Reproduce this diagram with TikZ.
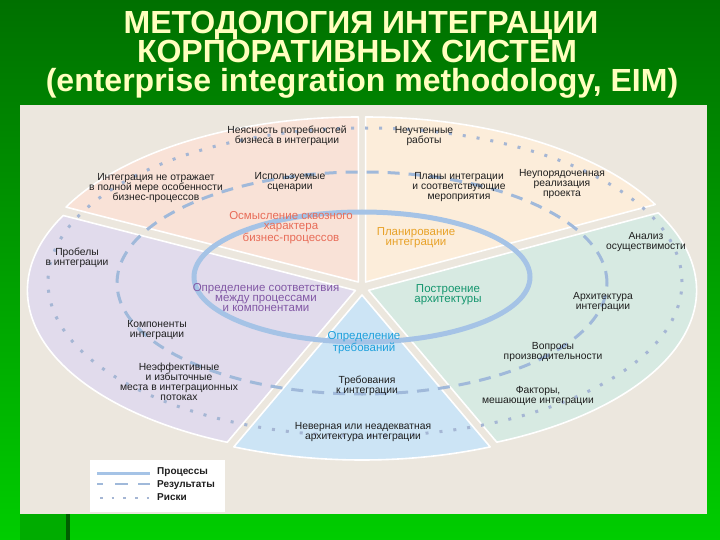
\documentclass[tikz,border=0pt]{standalone}
\usepackage{fontspec}
\setmainfont{Liberation Sans}
\definecolor{bgtop}{RGB}{0,112,0}
\definecolor{bgbot}{RGB}{0,205,0}
\definecolor{bgmid}{RGB}{0,172,0}
\definecolor{bgdark}{RGB}{0,95,0}
\definecolor{bgbeige}{RGB}{236,231,222}
\definecolor{secpink}{RGB}{249,226,215}
\definecolor{seccream}{RGB}{252,237,218}
\definecolor{secpurple}{RGB}{225,219,236}
\definecolor{secblue}{RGB}{204,228,245}
\definecolor{secgreen}{RGB}{215,234,226}
\definecolor{titleyel}{RGB}{255,255,190}
\definecolor{lblred}{RGB}{232,108,88}
\definecolor{lblorange}{RGB}{232,162,40}
\definecolor{lblpurple}{RGB}{130,88,165}
\definecolor{lblteal}{RGB}{20,150,110}
\definecolor{lblcyan}{RGB}{30,160,220}
\definecolor{proccol}{RGB}{165,195,230}
\definecolor{rescol}{RGB}{160,185,218}
\definecolor{riskcol}{RGB}{165,182,212}
\definecolor{txtdark}{RGB}{30,30,30}
\tikzset{
  sector/.style={draw=white, line width=1.6pt, line join=round},
  lbl/.style={font=\fontsize{10.3}{9.8}\selectfont, align=center, text=txtdark, inner sep=0pt},
  clbl/.style={font=\fontsize{11.5}{10}\selectfont, align=center, inner sep=0pt},
  ttl/.style={font=\fontsize{32}{32}\selectfont\bfseries, text=titleyel, anchor=base, inner sep=0pt},
  procline/.style={draw=proccol, line width=5pt},
  resline/.style={draw=rescol, line width=3pt, dash pattern=on 12pt off 9pt},
  riskline/.style={draw=riskcol, line width=3pt, dash pattern=on 3pt off 11pt},
  legtxt/.style={font=\fontsize{10}{10}\selectfont\bfseries, text=txtdark, anchor=west, inner sep=0pt},
}
\newcommand\pieseg[4]{%
  \filldraw[sector, fill=#3, shift={#4}] (362,288) -- plot[domain=#1:#2, samples=90] ({362+328*cos(\x)},{288-165*sin(\x)}) -- cycle;}
\begin{document}
\begin{tikzpicture}[x=1pt,y=-1pt]
\useasboundingbox (0,0) rectangle (720,540);
\shade[top color=bgtop, bottom color=bgbot] (0,0) rectangle (720,540);
\fill[bgmid] (20,514) rectangle (66,540);
\fill[bgdark] (66,514) rectangle (70,540);
\fill[bgbeige] (20,105) rectangle (707,514);

% title
\node[ttl] (t1) at (361,34) {МЕТОДОЛОГИЯ ИНТЕГРАЦИИ};
\node[ttl] (t2) at (357,63) {КОРПОРАТИВНЫХ СИСТЕМ};
\node[ttl] (t3) at (362,92) {(enterprise integration methodology, EIM)};

% sectors
\pieseg{90}{153}{secpink}{(-3.7,-6.0)}
\pieseg{28}{90}{seccream}{(3.6,-6.0)}
\pieseg{153}{247}{secpurple}{(-6.6,2.4)}
\pieseg{247}{293}{secblue}{(0,7)}
\pieseg{293}{388}{secgreen}{(6.6,2.3)}

% ellipses
\draw[riskline] (365,282) ellipse [x radius=317pt, y radius=154pt];
\draw[resline] (362,283) ellipse [x radius=245pt, y radius=111pt];
\draw[procline] (362,277) ellipse [x radius=168pt, y radius=65pt];

% pink sector
\node[lbl] (a1) at (287,136) {Неясность потребностей\\бизнеса в интеграции};
\node[lbl] (a2) at (156,188) {Интеграция не отражает\\в полной мере особенности\\бизнес-процессов};
\node[lbl] (a3) at (290,182) {Используемые\\сценарии};
\node[clbl, text=lblred] (a4) at (291,228) {Осмысление сквозного\\характера\\бизнес-процессов};
% cream sector
\node[lbl] (b1) at (424,136) {Неучтенные\\работы};
\node[lbl] (b2) at (459,187) {Планы интеграции\\и соответствующие\\мероприятия};
\node[lbl] (b3) at (562,184) {Неупорядоченная\\реализация\\проекта};
\node[clbl, text=lblorange] (b4) at (416,238) {Планирование\\интеграции};
% green sector
\node[lbl] (c1) at (646,242) {Анализ\\осуществимости};
\node[clbl, text=lblteal] (c2) at (448,295) {Построение\\архитектуры};
\node[lbl] (c3) at (603,302) {Архитектура\\интеграции};
\node[lbl] (c4) at (553,352) {Вопросы\\производительности};
\node[lbl] (c5) at (538,396) {Факторы,\\мешающие интеграции};
% blue sector
\node[clbl, text=lblcyan] (d1) at (364,343) {Определение\\требований};
\node[lbl] (d2) at (367,386) {Требования\\к интеграции};
\node[lbl] (d3) at (363,432) {Неверная или неадекватная\\архитектура интеграции};
% purple sector
\node[lbl] (e1) at (77,258) {Пробелы\\в интеграции};
\node[clbl, text=lblpurple] (e2) at (266,298) {Определение соответствия\\между процессами\\и компонентами};
\node[lbl] (e3) at (157,330) {Компоненты\\интеграции};
\node[lbl] (e4) at (179,382) {Неэффективные\\и избыточные\\места в интеграционных\\потоках};

% legend
\node[fill=white, minimum width=135pt, minimum height=52pt, inner sep=0pt, anchor=north west] (legend) at (90,460) {};
\coordinate (p1) at (97,473); \coordinate (p2) at (150,473);
\coordinate (r1) at (97,484); \coordinate (r2) at (150,484);
\coordinate (k1) at (100,498); \coordinate (k2) at (150,498);
\draw[proccol, line width=3pt] (p1) -- (p2);
\draw[rescol, line width=2pt, dash pattern=on 6pt off 12pt on 13pt off 10pt on 12pt] (r1) -- (r2);
\draw[riskcol, line width=2.5pt, dash pattern=on 2.5pt off 9.2pt] (k1) -- (k2);
\node[legtxt] (l1) at (157,472) {Процессы};
\node[legtxt] (l2) at (157,485) {Результаты};
\node[legtxt] (l3) at (157,497) {Риски};
\end{tikzpicture}
\end{document}
